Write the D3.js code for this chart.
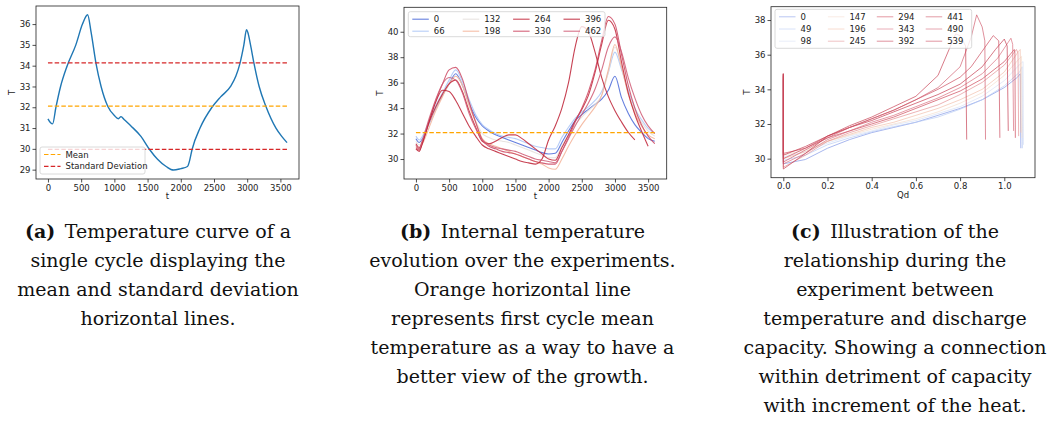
<!DOCTYPE html>
<html><head><meta charset="utf-8">
<script src="https://cdn.jsdelivr.net/npm/d3@7"></script>
<style>body{margin:0;background:#fff}svg{display:block}</style>
</head><body>
<svg id="chart" width="1052" height="421"></svg>
<script>
// ---------- Panel (a) data ----------
const aTime = [0, 40, 70, 120, 190, 290, 420, 520, 597, 650, 724, 800, 900, 1000, 1060, 1100, 1150, 1250, 1400, 1530, 1650, 1780, 1890, 2000, 2100, 2130, 2170, 2290, 2470, 2600, 2750, 2830, 2890, 2950, 2990, 3010, 3050, 3103, 3180, 3281, 3433, 3520, 3600];
const aTemp = [31.44, 31.25, 31.2, 32.0, 33.0, 34.0, 35.0, 36.0, 36.45, 35.6, 34.1, 33.0, 32.05, 31.6, 31.45, 31.55, 31.4, 31.1, 30.6, 29.97, 29.5, 29.15, 28.98, 29.05, 29.15, 29.4, 29.97, 31.0, 32.0, 32.5, 33.0, 33.5, 34.1, 35.0, 35.73, 35.6, 35.0, 34.1, 33.0, 32.05, 31.0, 30.6, 30.3];
const aMean = 32.05;
const aStdLines = [34.13, 29.97];
const aLegend = ["Mean", "Standard Deviation"];
const aXTicks = [0, 500, 1000, 1500, 2000, 2500, 3000, 3500];
const aYTicks = [29, 30, 31, 32, 33, 34, 35, 36];

// ---------- Panel (b) data ----------
const bTime = [0, 50, 100, 200, 300, 400, 500, 600, 700, 800, 900, 1000, 1100, 1200, 1300, 1400, 1500, 1600, 1700, 1800, 1900, 2000, 2100, 2200, 2300, 2400, 2500, 2600, 2700, 2800, 2900, 3000, 3100, 3200, 3300, 3400, 3500, 3600];
const bLabels = ["0", "66", "132", "198", "264", "330", "396", "462"];
const bT0   = [31.6, 31.3, 31.6, 32.8, 34.0, 35.0, 35.9, 36.7, 35.8, 34.4, 33.3, 32.6, 32.2, 31.9, 31.7, 31.5, 31.3, 31.1, 30.9, 30.7, 30.5, 30.4, 30.45, 31.3, 32.2, 33.0, 33.5, 33.9, 34.3, 34.7, 35.4, 36.5, 34.8, 33.6, 32.7, 32.1, 31.6, 31.4];
const bT66  = [31.8, 31.5, 31.8, 33.0, 34.2, 35.2, 36.2, 37.0, 36.1, 34.7, 33.5, 32.7, 32.3, 32.0, 31.8, 31.7, 31.6, 31.4, 31.2, 31.0, 30.9, 30.8, 30.8, 31.7, 32.5, 33.2, 33.7, 34.1, 34.6, 35.3, 36.8, 38.4, 37.0, 35.4, 34.0, 33.1, 32.4, 32.0];
const bT132 = [31.4, 31.1, 31.5, 32.8, 34.0, 35.0, 35.9, 36.5, 35.8, 34.3, 33.0, 32.0, 31.7, 31.5, 31.4, 31.3, 31.1, 30.9, 30.7, 30.5, 30.3, 30.1, 30.1, 31.0, 31.9, 32.7, 33.3, 33.8, 34.3, 35.0, 36.8, 38.8, 37.2, 35.2, 33.8, 32.9, 32.2, 31.8];
const bT198 = [31.0, 30.8, 31.2, 32.5, 33.8, 34.9, 35.9, 36.5, 35.8, 34.2, 32.9, 31.6, 31.2, 31.0, 30.8, 30.6, 30.4, 30.2, 30.0, 29.8, 29.6, 29.3, 29.2, 30.0, 31.0, 31.9, 32.7, 33.4, 34.1, 35.0, 37.0, 39.0, 37.2, 35.1, 33.6, 32.6, 31.9, 31.6];
const bT264 = [31.2, 30.9, 31.4, 32.9, 34.1, 35.1, 35.9, 36.2, 35.3, 33.8, 32.5, 31.4, 31.2, 31.4, 31.7, 31.9, 31.9, 31.6, 31.2, 30.8, 30.4, 30.0, 29.9, 30.9, 31.9, 33.0, 33.9, 35.0, 36.8, 39.0, 40.9, 40.2, 37.6, 35.2, 33.5, 32.2, 31.0, null];
const bT330 = [30.9, 30.7, 31.3, 33.0, 34.6, 35.9, 37.0, 37.2, 36.3, 34.5, 32.9, 31.5, 31.0, 30.8, 30.6, 30.5, 30.4, 30.2, 30.0, 29.8, 29.7, 29.6, 29.6, 30.6, 31.7, 32.9, 34.0, 35.3, 37.0, 39.3, 41.2, 40.6, 38.2, 35.8, 34.0, 32.7, 31.8, 31.2];
const bT396 = [30.8, 30.6, 31.3, 33.0, 34.5, 35.4, 35.3, 34.6, 33.6, 32.6, 31.8, 31.1, 30.8, 30.6, 30.4, 30.2, 30.0, 29.8, 29.7, 29.6, 30.0, 31.5, 32.6, 34.0, 36.0, 38.8, 40.4, 40.0, 38.4, 36.4, 34.9, 33.8, 32.9, 32.1, 31.5, null, null, null];
const bT462 = [31.1, 30.8, 31.5, 33.2, 34.7, 35.9, 36.4, 36.2, 35.2, 33.6, 32.4, 31.5, 31.1, 30.9, 30.8, 30.7, 30.6, 30.4, 30.2, 30.0, 29.9, 29.8, 29.7, 30.6, 31.6, 32.6, 33.5, 34.4, 35.5, 37.0, 38.8, 39.6, 38.4, 36.4, 34.8, 33.5, 32.6, 32.0];
const bSeries = [bT0, bT66, bT132, bT198, bT264, bT330, bT396, bT462];
const bFirstMean = 32.07;
const bXTicks = [0, 500, 1000, 1500, 2000, 2500, 3000, 3500];
const bYTicks = [30, 32, 34, 36, 38, 40];

// ---------- Panel (c) data ----------
const cLabels = ["0", "49", "98", "147", "196", "245", "294", "343", "392", "441", "490", "539"];
const cC0   = [[0,34.5],[0,29.7],[0.1,29.95],[0.2,30.6],[0.3,31.1],[0.4,31.5],[0.5,31.8],[0.6,32.1],[0.7,32.5],[0.8,32.9],[0.9,33.4],[1.0,34.1],[1.06,34.7],[1.072,34.9],[1.075,30.6]];
const cC49  = [[0,34.6],[0,29.9],[0.1,30.2],[0.2,30.8],[0.3,31.2],[0.4,31.55],[0.5,31.85],[0.6,32.1],[0.7,32.4],[0.8,32.85],[0.9,33.4],[1.0,34.2],[1.07,35.0],[1.08,35.3],[1.082,30.6]];
const cC98  = [[0,34.6],[0,30.1],[0.1,30.4],[0.2,30.9],[0.3,31.3],[0.4,31.6],[0.5,31.95],[0.6,32.2],[0.7,32.6],[0.8,33.0],[0.9,33.6],[1.0,34.5],[1.075,35.5],[1.085,35.6],[1.087,30.8]];
const cC147 = [[0,34.7],[0,30.2],[0.1,30.5],[0.2,31.0],[0.3,31.35],[0.4,31.7],[0.5,32.0],[0.6,32.3],[0.7,32.7],[0.8,33.2],[0.9,33.8],[1.0,34.8],[1.07,35.8],[1.078,35.9],[1.08,31.2]];
const cC196 = [[0,34.7],[0,30.0],[0.1,30.4],[0.2,31.0],[0.3,31.4],[0.4,31.8],[0.5,32.1],[0.6,32.5],[0.7,32.9],[0.8,33.4],[0.9,34.0],[1.0,35.0],[1.065,36.2],[1.072,36.3],[1.075,31.5]];
const cC245 = [[0,34.8],[0,29.5],[0.1,30.2],[0.2,31.0],[0.3,31.5],[0.4,31.9],[0.5,32.3],[0.6,32.7],[0.7,33.1],[0.8,33.7],[0.9,34.4],[1.0,35.4],[1.055,36.3],[1.062,36.1],[1.065,31.3]];
const cC294 = [[0,34.8],[0,30.3],[0.1,30.6],[0.2,31.2],[0.3,31.6],[0.4,32.0],[0.5,32.4],[0.6,32.9],[0.7,33.4],[0.8,33.9],[0.9,34.6],[1.0,35.6],[1.045,36.3],[1.048,36.1],[1.05,31.2]];
const cC343 = [[0,34.9],[0,29.7],[0.1,30.3],[0.2,31.1],[0.3,31.6],[0.4,32.1],[0.5,32.5],[0.6,33.0],[0.7,33.5],[0.8,34.1],[0.9,34.9],[0.97,35.8],[1.03,36.95],[1.038,36.6],[1.042,31.6]];
const cC392 = [[0,34.9],[0,30.2],[0.1,30.7],[0.2,31.3],[0.3,31.8],[0.4,32.2],[0.5,32.7],[0.6,33.2],[0.7,33.7],[0.8,34.3],[0.9,35.3],[0.96,36.3],[1.0,36.9],[1.013,36.5],[1.018,31.6]];
const cC441 = [[0,34.9],[0,30.0],[0.1,30.6],[0.2,31.3],[0.3,31.8],[0.4,32.3],[0.5,32.8],[0.6,33.4],[0.7,34.0],[0.8,34.7],[0.85,35.3],[0.9,36.2],[0.95,37.1],[0.975,36.8],[0.98,31.2]];
const cC490 = [[0,34.9],[0,29.8],[0.1,30.5],[0.2,31.2],[0.3,31.8],[0.4,32.3],[0.5,32.8],[0.6,33.4],[0.7,34.1],[0.8,35.3],[0.85,37.0],[0.875,38.3],[0.9,37.6],[0.912,36.8],[0.915,31.1]];
const cC539 = [[0,34.9],[0,29.4],[0.1,30.3],[0.2,31.3],[0.3,31.9],[0.4,32.4],[0.5,33.0],[0.6,33.6],[0.7,34.8],[0.75,36.3],[0.78,37.2],[0.8,37.1],[0.825,36.5],[0.83,31.1]];
const cSeries = [cC0, cC49, cC98, cC147, cC196, cC245, cC294, cC343, cC392, cC441, cC490, cC539];
const cXTicks = [0.0, 0.2, 0.4, 0.6, 0.8, 1.0];
const cYTicks = [30, 32, 34, 36, 38];

// ---------- Captions ----------
const capA = ["Temperature curve of a", "single cycle displaying the", "mean and standard deviation", "horizontal lines."];
const capB = ["Internal temperature", "evolution over the experiments.", "Orange horizontal line", "represents first cycle mean", "temperature as a way to have a", "better view of the growth."];
const capC = ["Illustration of the", "relationship during the", "experiment between", "temperature and discharge", "capacity. Showing a connection", "within detriment of capacity", "with increment of the heat."];

// ---------- Styles ----------
const bColors = ["#4a68d8", "#aac4f6", "#e4dfdc", "#f3b197", "#c22538", "#cc4862", "#bd2034", "#cf5a74"];
const cColors = ["#7d94e6", "#b8cbf3", "#d6e0f4", "#f4dccd", "#f2bea8", "#e28d90", "#cc4254", "#d86a7a", "#c4354a", "#cb4659", "#d05a6c", "#c53a4e"];
const FONT = "DejaVu Sans";

const svg = d3.select("#chart");

function makePanel(o) {
  const g = svg.append("g");
  const x = d3.scaleLinear().domain(o.xd).range([o.l, o.r]);
  const y = d3.scaleLinear().domain(o.yd).range([o.b, o.t]);
  const xa = g.append("g").attr("transform", `translate(0,${o.b})`)
    .call(d3.axisBottom(x).tickValues(o.xt).tickFormat(o.xf).tickSize(3.5).tickPadding(2).tickSizeOuter(0));
  const ya = g.append("g").attr("transform", `translate(${o.l},0)`)
    .call(d3.axisLeft(y).tickValues(o.yt).tickFormat(d3.format("d")).tickSize(3.5).tickPadding(2).tickSizeOuter(0));
  [xa, ya].forEach(a => {
    a.select(".domain").remove();
    a.selectAll("line").attr("stroke", "#222").attr("stroke-width", 0.8);
    a.selectAll("text").attr("font-family", FONT).attr("font-size", 8.5).attr("fill", "#222");
  });
  g.append("text").attr("x", (o.l + o.r) / 2).attr("y", o.b + 20).attr("text-anchor", "middle")
    .attr("font-family", FONT).attr("font-size", 8.5).attr("fill", "#222").text(o.xl);
  g.append("text").attr("transform", `translate(${o.l - 21},${(o.t + o.b) / 2}) rotate(-90)`)
    .attr("text-anchor", "middle").attr("font-family", FONT).attr("font-size", 8.5).attr("fill", "#222").text("T");
  const plot = g.append("g");
  g.append("rect").attr("x", o.l).attr("y", o.t).attr("width", o.r - o.l).attr("height", o.b - o.t)
    .attr("fill", "none").attr("stroke", "#222").attr("stroke-width", 0.8);
  return { g, plot, x, y };
}

function legend(g, x0, y0, w, h, cols, rows, colW, rowH, items) {
  const lg = g.append("g");
  lg.append("rect").attr("x", x0).attr("y", y0).attr("width", w).attr("height", h).attr("rx", 2)
    .attr("fill", "#fff").attr("fill-opacity", 0.8).attr("stroke", "#d0d0d0").attr("stroke-width", 0.8);
  items.forEach((it, i) => {
    const c = Math.floor(i / rows), r = i % rows;
    const lx = x0 + 4 + c * colW, ly = y0 + 7.5 + r * rowH;
    lg.append("line").attr("x1", lx).attr("x2", lx + 16.5).attr("y1", ly).attr("y2", ly)
      .attr("stroke", it.color).attr("stroke-width", it.width).attr("stroke-opacity", it.opacity)
      .attr("stroke-dasharray", it.dash || null);
    lg.append("text").attr("x", lx + 21.5).attr("y", ly + 3).attr("font-family", FONT).attr("font-size", 8.5)
      .attr("fill", "#222").text(it.label);
  });
}

// ---------- Panel (a) ----------
const pa = makePanel({ l: 36, r: 299, t: 6, b: 179, xd: [-180, 3780], yd: [28.55, 36.87],
  xt: aXTicks, yt: aYTicks, xf: d3.format("d"), xl: "t" });
const aLine = d3.line().x((d, i) => pa.x(aTime[i])).y(d => pa.y(d)).curve(d3.curveMonotoneX);
pa.plot.append("path").attr("d", aLine(aTemp)).attr("fill", "none").attr("stroke", "#1f77b4").attr("stroke-width", 1.4);
const tExt = d3.extent(aTime);
pa.plot.append("line").attr("x1", pa.x(tExt[0])).attr("x2", pa.x(tExt[1])).attr("y1", pa.y(aMean)).attr("y2", pa.y(aMean))
  .attr("stroke", "#ffa500").attr("stroke-width", 1.2).attr("stroke-dasharray", "4.5,2.2");
aStdLines.forEach(v => pa.plot.append("line").attr("x1", pa.x(tExt[0])).attr("x2", pa.x(tExt[1])).attr("y1", pa.y(v)).attr("y2", pa.y(v))
  .attr("stroke", "#d62728").attr("stroke-width", 1.2).attr("stroke-dasharray", "4.5,2.2"));
legend(pa.g, 40, 147, 105, 27, 1, 2, 0, 11.8, [
  { label: aLegend[0], color: "#ffa500", width: 1.2, opacity: 1, dash: "4.5,2.2" },
  { label: aLegend[1], color: "#d62728", width: 1.2, opacity: 1, dash: "4.5,2.2" }]);

// ---------- Panel (b) ----------
const pb = makePanel({ l: 404, r: 666.7, t: 7.3, b: 179, xd: [-180, 3780], yd: [28.43, 41.92],
  xt: bXTicks, yt: bYTicks, xf: d3.format("d"), xl: "t" });
const bLine = d3.line().defined(d => d != null).x((d, i) => pb.x(bTime[i])).y(d => pb.y(d)).curve(d3.curveMonotoneX);
bSeries.forEach((s, i) => pb.plot.append("path").attr("d", bLine(s)).attr("fill", "none")
  .attr("stroke", bColors[i]).attr("stroke-width", 1.1).attr("stroke-opacity", 0.85));
pb.plot.append("line").attr("x1", pb.x(bTime[0])).attr("x2", pb.x(bTime[bTime.length - 1]))
  .attr("y1", pb.y(bFirstMean)).attr("y2", pb.y(bFirstMean))
  .attr("stroke", "#ffa500").attr("stroke-width", 1.2).attr("stroke-dasharray", "4.5,2.2");
legend(pb.g, 408.3, 11.7, 196.7, 25, 4, 2, 50.4, 12, bLabels.map((l, i) => ({ label: l, color: bColors[i], width: 1.1, opacity: 0.85 })));

// ---------- Panel (c) ----------
const pc = makePanel({ l: 771, r: 1035, t: 6.7, b: 177.7, xd: [-0.0557, 1.139], yd: [28.9, 38.77],
  xt: cXTicks, yt: cYTicks, xf: d3.format(".1f"), xl: "Qd" });
const cLine = d3.line().x(d => pc.x(d[0])).y(d => pc.y(d[1]));
cSeries.forEach((s, i) => pc.plot.append("path").attr("d", cLine(s)).attr("fill", "none")
  .attr("stroke", cColors[i]).attr("stroke-width", 0.9).attr("stroke-opacity", 0.75));
legend(pc.g, 775, 9.3, 196.7, 39, 4, 3, 48.9, 12.2, cLabels.map((l, i) => ({ label: l, color: cColors[i], width: 0.9, opacity: 0.6 })));

// ---------- Captions ----------
function caption(cx, tag, lines) {
  const g = svg.append("g").attr("font-family", "DejaVu Serif").attr("font-size", 19).attr("fill", "#111");
  lines.forEach((ln, i) => {
    const t = g.append("text").attr("x", cx).attr("y", 238 + i * 29).attr("text-anchor", "middle");
    if (i === 0) {
      t.append("tspan").attr("font-weight", "bold").text(tag);
      t.append("tspan").text("\u2002" + ln);
    } else t.text(ln);
  });
}
caption(158, "(a)", capA);
caption(522.5, "(b)", capB);
caption(895, "(c)", capC);
</script>
</body></html>
